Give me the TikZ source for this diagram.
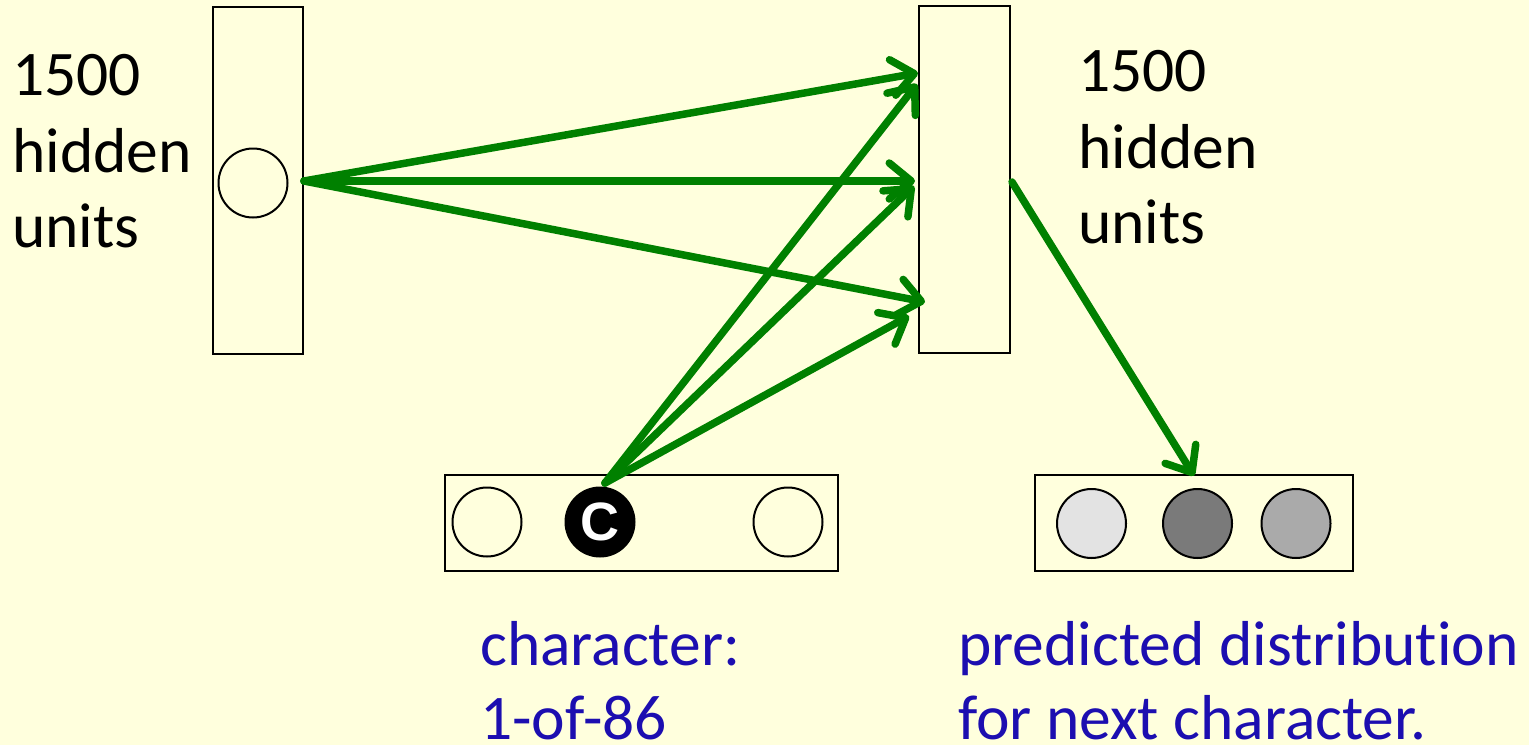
\documentclass[tikz,border=0pt]{standalone}
\usepackage{fontspec}
\setmainfont{Carlito}[Ligatures=NoCommon]
\newfontfamily\arialfont{Liberation Sans}
\usetikzlibrary{arrows.meta}
\definecolor{bg}{RGB}{255,255,221}
\definecolor{arrowgreen}{RGB}{0,128,0}
\definecolor{labelblue}{RGB}{28,14,176}
\begin{document}
\begin{tikzpicture}[x=1pt,y=-1pt,
  layerbox/.style={draw=black,line width=2.5pt,fill=bg,inner sep=0pt},
  unit/.style={circle,draw=black,line width=2pt,minimum size=69pt,inner sep=0pt},
  conn/.style={draw=arrowgreen,line width=7.5pt,line cap=round,
    -{Straight Barb[length=22pt,width=36pt,round]}},
  bigtext/.style={anchor=base west,inner sep=0pt,font=\fontsize{63.5}{76}\selectfont},
  bluetext/.style={bigtext,text=labelblue}]
\fill[bg] (0,0) rectangle (1529,745);
\useasboundingbox (0,0) rectangle (1529,745);
% layers
\node[layerbox,minimum width=90pt,minimum height=347pt] (h1) at (258,180.5) {};
\node[layerbox,minimum width=91pt,minimum height=347pt] (h2) at (964.5,179.5) {};
\node[layerbox,minimum width=393pt,minimum height=96pt] (in) at (641.5,523) {};
\node[layerbox,minimum width=318pt,minimum height=96pt] (out) at (1194,523) {};
% units
\node[unit] (hu) at (253,183) {};
\node[unit] (c1) at (487,522) {};
\node[unit,fill=black,text=white,font=\arialfont\bfseries\fontsize{54}{60}\selectfont] (c2) at (600,522) {C};
\node[unit] (c3) at (788,522) {};
\node[unit,fill={rgb,255:red,227;green,227;blue,227}] (o1) at (1091.5,523.5) {};
\node[unit,fill={rgb,255:red,122;green,122;blue,122}] (o2) at (1197.5,523.5) {};
\node[unit,fill={rgb,255:red,170;green,170;blue,170}] (o3) at (1296,523.5) {};
% arrow targets
\coordinate (t1) at (918,73);
\coordinate (t2) at (915,181);
\coordinate (t3) at (925,302);
\coordinate (t4) at (917,84);
\coordinate (t5) at (914,186);
\coordinate (t6) at (909,316);
\coordinate (s1) at (304,181);
\coordinate (s2) at (605,483);
\coordinate (s3) at (1012,182);
% connectors
\draw[conn] (s1) -- (t1);
\draw[conn] (s1) -- (t2);
\draw[conn] (s1) -- (t3);
\draw[conn] (s2) -- (t4);
\draw[conn] (s2) -- (t5);
\draw[conn] (s2) -- (t6);
\draw[conn] (s3) -- ([yshift=-2pt]out.north);
% labels
\node[bigtext] (l1) at (12,95) {1500};
\node[bigtext] (l2) at (12,172) {hidden};
\node[bigtext] (l3) at (12,247) {units};
\node[bigtext] (r1) at (1078,91) {1500};
\node[bigtext] (r2) at (1078,168) {hidden};
\node[bigtext] (r3) at (1078,243) {units};
\node[bluetext] (b1) at (480,665) {character:};
\node[bluetext] (b2) at (480,739) {1-of-86};
\node[bluetext] (b3) at (958,665) {predicted distribution};
\node[bluetext] (b4) at (958,739) {for next character.};
\end{tikzpicture}
\end{document}
